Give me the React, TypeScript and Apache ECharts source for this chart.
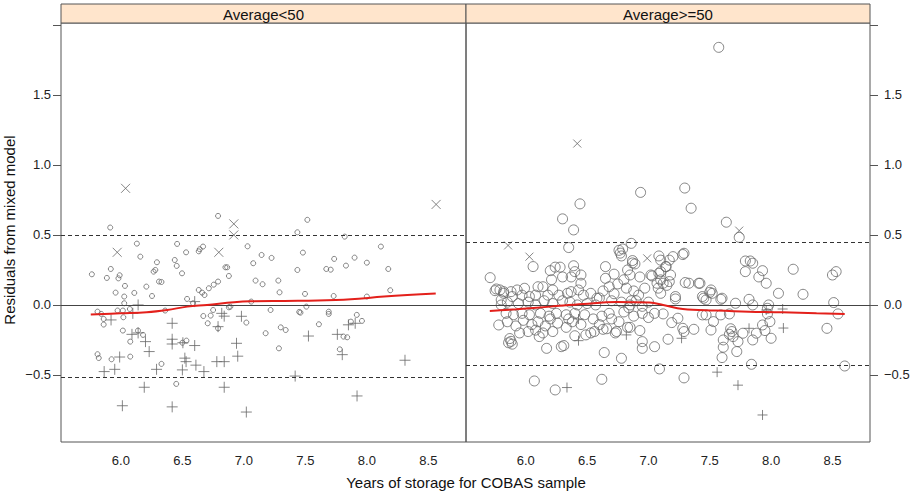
import React, { useEffect, useRef } from "react";
import * as echarts from "echarts";

// ---------- data ----------
const panelTitles = ["Average<50", "Average>=50"];
const xTicks = [6.0, 6.5, 7.0, 7.5, 8.0, 8.5];
const yTicks = [-0.5, 0.0, 0.5, 1.0, 1.5, 2.0];
const yLabelTicks = [-0.5, 0.0, 0.5, 1.0, 1.5];
const leftBands = [0.5, -0.524];
const rightBands = [0.452, -0.434];

const leftCircles = [
  [5.764, 0.219], [5.81, -0.048], [5.81, -0.352], [5.82, -0.379], [5.84, -0.064], [5.86, -0.1], [5.86, -0.14],
  [5.886, 0.193], [5.918, 0.257], [5.924, -0.388], [5.957, 0.088], [5.973, -0.04], [5.98, 0.19], [5.99, 0.212],
  [6.016, -0.04], [6.02, -0.088], [6.027, 0.012], [6.027, 0.06], [6.033, 0.136], [6.016, -0.183], [6.076, -0.369],
  [6.076, -0.262], [6.073, -0.029], [6.109, 0.086], [6.13, 0.438], [6.158, 0.345], [6.139, -0.183], [6.18, -0.214],
  [6.207, 0.131], [6.253, 0.064], [6.266, 0.238], [6.28, 0.25], [6.293, 0.305], [6.31, 0.167], [6.33, 0.164],
  [6.33, -0.421], [6.36, -0.04], [6.438, 0.321], [6.454, 0.279], [6.457, 0.436], [6.497, 0.226], [6.45, -0.564],
  [6.53, 0.376], [6.538, 0.043], [6.533, -0.255], [6.5, -0.27], [6.587, 0.012], [6.633, 0.383], [6.641, 0.398],
  [6.668, 0.417], [6.633, 0.107], [6.66, 0.088], [6.67, -0.079], [6.68, 0.071], [6.706, -0.131], [6.715, 0.119],
  [6.73, -0.076], [6.755, 0.145], [6.75, -0.036], [6.79, 0.167], [6.79, -0.167], [6.85, 0.269], [6.864, 0.269],
  [6.878, 0.207], [6.89, -0.012], [6.878, -0.017], [7.02, -0.126], [7.03, 0.419], [7.06, 0.024], [7.076, 0.298],
  [7.095, 0.174], [7.144, 0.357], [7.152, 0.148], [7.177, -0.202], [7.217, -0.036], [7.225, 0.336], [7.28, 0.174],
  [7.29, 0.09], [7.285, -0.31], [7.3, -0.16], [7.34, -0.179], [7.435, 0.25], [7.45, -0.05], [7.46, -0.055],
  [7.48, 0.374], [7.497, 0.079], [7.508, -0.012], [7.61, -0.138], [7.67, 0.257], [7.706, 0.252], [7.69, -0.048],
  [7.69, -0.064], [7.734, 0.329], [7.73, 0.064], [7.83, 0.281], [7.81, -0.226], [7.84, -0.231], [7.78, -0.317],
  [7.87, -0.119], [7.9, 0.338], [7.918, -0.071], [7.96, -0.114], [8.0, 0.302], [8.0, 0.06], [8.114, 0.417],
  [8.174, 0.257], [8.19, 0.105], [5.913, 0.553], [6.79, 0.636], [7.435, 0.519], [7.516, 0.608], [7.82, 0.488],
];
const leftPlus = [
  [5.864, -0.476], [5.92, -0.107], [5.95, -0.46], [5.99, -0.372], [6.012, -0.72], [6.097, -0.06], [6.14, 0.0],
  [6.09, -0.21], [6.14, -0.2], [6.2, -0.262], [6.23, -0.333], [6.19, -0.588], [6.29, -0.46], [6.417, -0.131],
  [6.417, -0.245], [6.417, -0.279], [6.417, -0.728], [6.504, -0.27], [6.52, -0.38], [6.53, -0.405], [6.5, -0.464],
  [6.6, -0.29], [6.61, -0.43], [6.6, 0.024], [6.675, -0.476], [6.78, -0.405], [6.84, -0.405], [6.79, -0.155],
  [6.82, -0.06], [6.84, -0.08], [6.84, -0.588], [6.94, -0.274], [6.95, -0.366], [6.98, -0.081], [7.02, -0.765],
  [7.417, -0.508], [7.525, -0.222], [7.76, -0.21], [7.8, -0.355], [7.85, -0.142], [7.905, -0.131], [7.92, -0.65],
  [8.31, -0.395],
];
const leftCross = [[5.97, 0.376], [6.796, 0.376], [6.038, 0.833], [6.918, 0.579], [6.918, 0.5], [8.563, 0.718]];
const leftLoess = [
  [5.755, -0.069], [5.995, -0.06], [6.21, -0.052], [6.375, -0.036], [6.54, -0.012], [6.7, 0.0], [6.92, 0.019],
  [7.05, 0.026], [7.33, 0.029], [7.6, 0.031], [7.87, 0.04], [8.14, 0.06], [8.56, 0.081],
];

const rightCircles = [
  [7.573, 1.84], [6.936, 0.804], [7.296, 0.835], [6.442, 0.722], [7.348, 0.691], [6.3, 0.615], [6.39, 0.536],
  [7.635, 0.591], [7.74, 0.483], [6.35, 0.41], [6.86, 0.44], [6.76, 0.39], [6.79, 0.4], [6.06, 0.274], [6.78, 0.35],
  [6.77, 0.37], [6.87, 0.317], [6.89, 0.293], [7.085, 0.35], [7.1, 0.32], [7.145, 0.274], [7.2, 0.345], [7.29, 0.369],
  [7.17, 0.32], [7.03, 0.207], [7.085, 0.226], [7.1, 0.179], [7.12, 0.155], [7.17, 0.167], [7.3, 0.16], [7.42, 0.155],
  [7.45, 0.048], [7.47, 0.036], [7.51, 0.107], [7.5, 0.09], [7.59, 0.04], [7.71, 0.012], [7.79, 0.314], [7.83, 0.314],
  [7.85, 0.298], [7.79, 0.238], [7.93, 0.245], [7.9, 0.2], [7.96, 0.155], [7.82, 0.04], [7.85, 0.0], [8.06, 0.083],
  [8.18, 0.255], [8.26, 0.076], [7.98, 0.0], [7.97, -0.024], [7.97, -0.064], [8.51, 0.017], [8.5, 0.214], [8.53, 0.238],
  [8.545, -0.064], [8.455, -0.167], [8.6, -0.436], [7.93, -0.143], [7.99, -0.119], [8.0, -0.238], [7.95, -0.183],
  [7.88, -0.202], [7.85, -0.25], [7.77, -0.202], [7.84, -0.424], [7.67, -0.17], [7.68, -0.19], [7.69, -0.226],
  [7.66, -0.21], [7.73, -0.262], [7.72, -0.333], [7.61, -0.25], [7.61, -0.302], [7.6, -0.376], [7.66, -0.064],
  [7.59, -0.071], [7.51, -0.179], [7.53, -0.119], [7.47, -0.071], [7.44, -0.071], [7.37, -0.174], [7.29, -0.19],
  [7.28, -0.167], [7.24, -0.095], [7.19, -0.126], [7.16, -0.245], [7.12, -0.064], [7.05, -0.298], [7.09, -0.457],
  [7.29, -0.521], [7.22, 0.043], [6.95, -0.262], [6.95, -0.31], [6.78, -0.381], [6.64, -0.34], [6.62, -0.531],
  [6.93, -0.183], [6.83, -0.16], [6.85, -0.16], [6.74, -0.19], [6.63, -0.174], [6.66, -0.17], [6.56, -0.19],
  [6.53, -0.2], [6.49, -0.214], [6.29, -0.298], [6.31, -0.29], [6.17, -0.31], [6.11, -0.226], [6.07, -0.543],
  [6.24, -0.607], [5.87, -0.24], [5.88, -0.26], [5.89, -0.28], [5.86, -0.27], [5.78, -0.143], [5.71, 0.195],
  [5.75, 0.102], [5.79, 0.107], [5.82, 0.083], [5.8, 0.036], [6.65, 0.274], [6.85, 0.214], [7.02, 0.214],
  [7.1, 0.238], [7.14, 0.274], [7.18, 0.214], [7.07, 0.155], [7.15, 0.14], [7.08, 0.12], [7.1, 0.083], [7.22, 0.06],
  [7.33, 0.155], [7.41, 0.155], [7.44, 0.06], [7.52, 0.083], [7.6, 0.048], [6.87, 0.3], [7.28, 0.36], [6.2, 0.245],
  [6.24, 0.27], [6.28, 0.27], [6.39, 0.28], [6.4, 0.238], [6.37, 0.2], [6.45, 0.214], [6.45, 0.155], [6.3, 0.2],
  [6.21, 0.18], [6.14, 0.13], [6.1, 0.13], [5.76, 0.114], [5.82, 0.095], [5.88, 0.095], [5.93, 0.107], [5.99, 0.119],
  [5.89, 0.06], [5.97, 0.07], [6.03, 0.06], [6.08, 0.07], [6.18, 0.07], [6.22, 0.107], [6.27, 0.07], [6.34, 0.083],
  [6.37, 0.095], [6.43, 0.107], [6.47, 0.07], [6.53, 0.083], [6.58, 0.048], [5.8, 0.0], [5.85, 0.02], [5.94, 0.01],
  [6.02, 0.02], [6.08, 0.0], [6.15, 0.03], [6.22, 0.01], [6.3, 0.03], [6.36, 0.02], [6.42, 0.0], [6.5, 0.01],
  [6.57, 0.0], [5.84, -0.06], [5.9, -0.07], [5.97, -0.06], [6.03, -0.07], [6.12, -0.06], [6.19, -0.08], [6.25, -0.06],
  [6.33, -0.07], [6.4, -0.06], [6.48, -0.07], [5.85, -0.12], [5.92, -0.15], [5.98, -0.11], [6.05, -0.14], [6.1, -0.12],
  [6.16, -0.15], [6.2, -0.1], [6.26, -0.13], [6.33, -0.16], [6.38, -0.12], [6.45, -0.14], [5.95, -0.2], [6.02, -0.19],
  [6.08, -0.18], [6.14, -0.2], [6.22, -0.19], [6.4, -0.22], [6.35, -0.1], [6.55, -0.1], [6.6, -0.14], [6.62, -0.08],
  [6.7, -0.1], [6.76, -0.12], [6.8, -0.05], [6.88, -0.08], [6.95, -0.06], [7.0, -0.09], [7.05, -0.06], [6.68, -0.06],
  [6.73, -0.2], [6.6, 0.05], [6.63, 0.1], [6.68, 0.13], [6.72, 0.08], [6.75, 0.15], [6.8, 0.18], [6.82, 0.12],
  [6.88, 0.1], [6.92, 0.07], [6.97, 0.12], [6.7, 0.03], [6.78, 0.02], [6.85, 0.0], [6.9, 0.03], [6.95, -0.01],
  [7.0, 0.02], [6.84, -0.02], [6.86, 0.03], [6.65, 0.19], [6.72, 0.22], [6.83, 0.25], [6.93, 0.2],
];
const rightPlus = [
  [6.43, -0.255], [6.336, -0.59], [6.82, -0.214], [7.27, -0.238], [7.56, -0.48], [7.73, -0.573], [7.93, -0.786],
  [8.1, -0.165], [7.82, -0.167], [8.094, -0.029], [7.96, -0.036], [6.43, -0.1],
];
const rightCross = [[6.42, 1.153], [5.856, 0.425], [6.03, 0.345], [6.99, 0.333], [7.74, 0.531]];
const rightLoess = [
  [5.707, -0.043], [5.924, -0.031], [6.2, -0.012], [6.47, 0.007], [6.74, 0.021], [7.01, 0.017], [7.12, 0.0],
  [7.28, -0.029], [7.55, -0.04], [7.82, -0.048], [8.09, -0.052], [8.37, -0.06], [8.6, -0.064],
];

// ---------- style ----------
const FONT = "Liberation Sans, Arial, Helvetica, sans-serif";
const PT = "#666666";
const BORDER = "#555555";
const PLUS = "path://M0,5L10,5M5,0L5,10";
const CROSS = "path://M0,0L10,10M10,0L0,10";
const X_MIN = 5.513;
const X_MAX = 8.806;
const Y_MIN = -0.979;
const Y_MAX = 2.014;
const panels = [
  { left: 61, width: 405, circles: leftCircles, plus: leftPlus, cross: leftCross, loess: leftLoess, bands: leftBands, cSize: 5, pSize: 11, xSize: 9, side: "left" },
  { left: 466, width: 404, circles: rightCircles, plus: rightPlus, cross: rightCross, loess: rightLoess, bands: rightBands, cSize: 10, pSize: 10, xSize: 8, side: "right" },
];
const fmt = (v: number) => (v < 0 ? "\u2212" + Math.abs(v).toFixed(1) : v.toFixed(1));

export default function App() {
  const ref = useRef<HTMLDivElement>(null);
  useEffect(() => {
    if (!ref.current) return;
    const chart = echarts.init(ref.current, undefined, { renderer: "svg" });
    const grid = panels.map((p) => ({
      left: p.left, top: 23, width: p.width, height: 419,
      show: true, borderColor: BORDER, borderWidth: 1, backgroundColor: "transparent",
    }));
    const xAxis = panels.map((p, i) => ({
      type: "value", gridIndex: i, min: X_MIN, max: X_MAX,
      axisLine: { show: false }, splitLine: { show: false },
      axisTick: { show: false },
      axisLabel: {
        customValues: xTicks, margin: 12, color: "#222", fontSize: 13, fontFamily: FONT,
        formatter: fmt,
      },
    }));
    const yAxis = panels.map((p, i) => ({
      type: "value", gridIndex: i, min: Y_MIN, max: Y_MAX, position: p.side,
      axisLine: { show: false }, splitLine: { show: false },
      axisTick: { show: true, customValues: yTicks, length: 8, inside: false, lineStyle: { color: BORDER } },
      axisLabel: {
        customValues: yLabelTicks, margin: p.side === "left" ? 10 : 14, color: "#222", fontSize: 13, fontFamily: FONT,
        formatter: fmt,
      },
    }));
    const series: any[] = [];
    panels.forEach((p, i) => {
      series.push({
        type: "scatter", xAxisIndex: i, yAxisIndex: i, data: p.circles, symbol: "circle", symbolSize: p.cSize,
        itemStyle: { color: "none", borderColor: PT, borderWidth: 1 }, silent: true,
      });
      series.push({
        type: "scatter", xAxisIndex: i, yAxisIndex: i, data: p.plus, symbol: PLUS, symbolSize: p.pSize,
        itemStyle: { color: "none", borderColor: PT, borderWidth: 1 }, silent: true,
      });
      series.push({
        type: "scatter", xAxisIndex: i, yAxisIndex: i, data: p.cross, symbol: CROSS, symbolSize: p.xSize,
        itemStyle: { color: "none", borderColor: PT, borderWidth: 1 }, silent: true,
      });
      series.push({
        type: "line", xAxisIndex: i, yAxisIndex: i, data: p.loess, smooth: 0.4, showSymbol: false,
        lineStyle: { color: "#e3201b", width: 2 }, silent: true, z: 5,
        markLine: {
          silent: true, symbol: ["none", "none"], label: { show: false },
          data: [
            { yAxis: 0, lineStyle: { type: "solid", color: "#444", width: 1 } },
            ...p.bands.map((b) => ({ yAxis: b, lineStyle: { type: [4, 3], color: "#333", width: 1 } })),
          ],
        },
      });
    });
    const graphic: any[] = [];
    panels.forEach((p, i) => {
      graphic.push({
        type: "rect", shape: { x: p.left, y: 4, width: p.width, height: 19 },
        style: { fill: "#ffe5cc", stroke: BORDER, lineWidth: 1 }, z: 10,
      });
      graphic.push({
        type: "text", x: p.left + p.width / 2, y: 14, z: 11,
        style: { text: panelTitles[i], fill: "#111", font: `15px ${FONT}`, textAlign: "center", textVerticalAlign: "middle" },
      });
    });
    graphic.push({
      type: "text", x: 9, y: 230, rotation: Math.PI / 2, z: 11,
      style: { text: "Residuals from mixed model", fill: "#111", font: `15px ${FONT}`, textAlign: "center", textVerticalAlign: "middle" },
    });
    graphic.push({
      type: "text", x: 466, y: 482, z: 11,
      style: { text: "Years of storage for COBAS sample", fill: "#111", font: `15px ${FONT}`, textAlign: "center", textVerticalAlign: "middle" },
    });
    chart.setOption({
      animation: false, backgroundColor: "#ffffff",
      textStyle: { fontFamily: FONT },
      grid, xAxis, yAxis, series, graphic,
    });
    return () => chart.dispose();
  }, []);
  return <div ref={ref} style={{ position: "fixed", left: 0, top: 0, width: 920, height: 492 }} />;
}
